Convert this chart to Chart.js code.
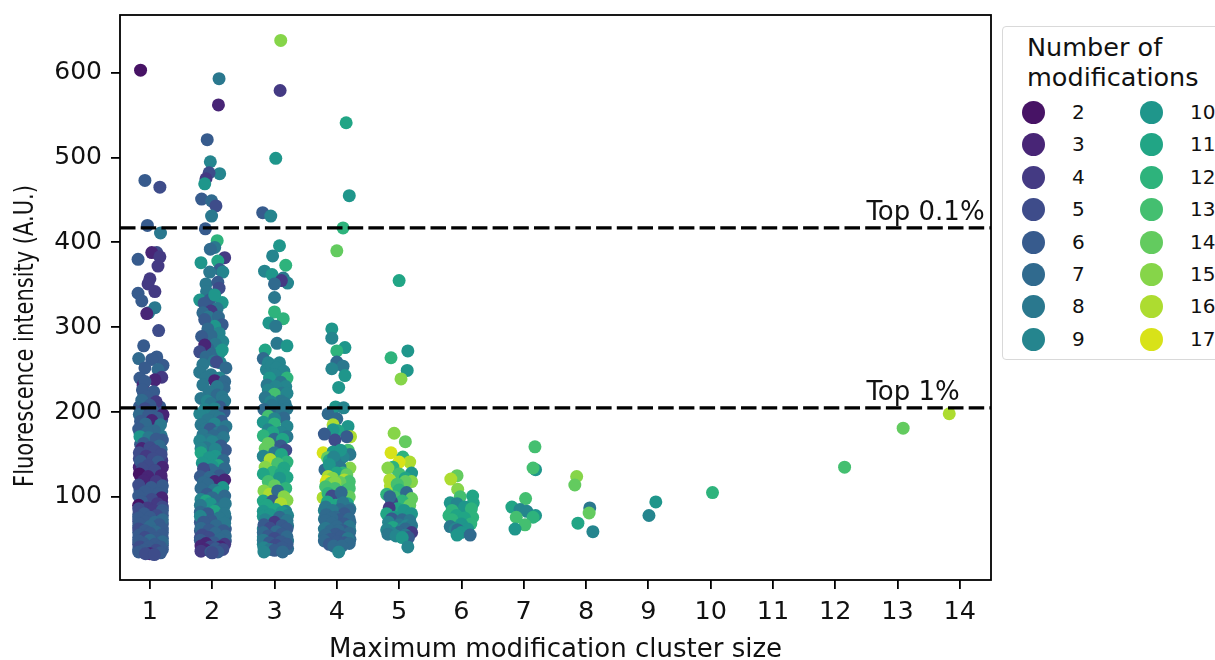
<!doctype html>
<html lang="en">
<head>
<meta charset="utf-8">
<title>Fluorescence intensity by modification cluster size</title>
<style>
    * { margin: 0; padding: 0; font-family: "DejaVu Sans", sans-serif; }
    html, body { width: 1215px; height: 660px; overflow: hidden; background: #fff; }
    #chartBox { position: absolute; left: 0; top: 0; width: 1215px; height: 660px; }
    #legendBox {
        position: absolute; left: 1002px; top: 26px; width: 240px; height: 332px;
        border: 1.5px solid #d9d9d9; border-radius: 4px; background: #fff; color: #111;
    }
    #legendTitle { position: absolute; left: 24px; top: 5px; font-size: 25.5px; line-height: 30px; white-space: nowrap; }
    .legendItem { position: absolute; font-size: 20px; line-height: 22px; }
    .legendItem i { position: absolute; left: -50px; top: 0; width: 23px; height: 23px; border-radius: 50%; }
</style>
</head>
<body>
<div id="chartBox"><canvas id="myChart" width="1215" height="660"></canvas></div>
<div id="legendBox"><div id="legendTitle">Number of<br>modifications</div></div>
<script src="https://cdn.jsdelivr.net/npm/chart.js"></script>
<script>
    // setup
    const modLabels = [2, 3, 4, 5, 6, 7, 8, 9, 10, 11, 12, 13, 14, 15, 16, 17];
    const modColors = ['#471365', '#482576', '#443a83', '#3e4c8a', '#375b8d', '#306a8e', '#2a788e', '#25858e',
        '#1f968b', '#21a585', '#2eb37c', '#44bf70', '#63cb5f', '#86d549', '#addc30', '#d8e219'];
    const xTickValues = [1, 2, 3, 4, 5, 6, 7, 8, 9, 10, 11, 12, 13, 14];
    const yTickValues = [100, 200, 300, 400, 500, 600];
    const topThresholds = [417, 205];
    const topLabels = ['Top 0.1%', 'Top 1%'];

    // each point: cluster size with jitter, intensity, number of modifications
    const cluster1 = [
        [0.85,603,2],[0.92,473,6],[1.16,465,5],[0.96,420,6],[1.17,411,8],[1.11,388,5],[1.03,388,3],[1.16,383,4],
        [0.81,380,6],[1.13,372,4],[1.0,357,4],[0.97,351,4],[1.08,342,4],[0.81,340,6],[0.87,331,6],[1.08,323,8],
        [0.98,317,8],[0.95,316,3],[1.14,296,5],[0.9,278,6],[0.82,263,7],[1.11,265,6],[1.03,262,6],[1.21,255,6],
        [0.92,252,6],[1.13,250,7],[1.19,241,4],[0.84,240,6],[1.08,238,3],[0.89,232,3],[0.92,236,6],
        [0.9,222,6],[1.02,214,5],[0.83,206,6],[1.16,206,6],[0.9,200,6],[1.08,199,5],[1.19,191,6],[0.88,193,6],
        [1.0,183,6],[0.84,176,7],[1.12,176,6],[1.18,172,8],[0.92,172,8],[1.04,164,5],[0.85,162,6],[0.83,145,5],
        [1.18,156,7],[1.12,148,5],[1.0,150,5],[0.9,140,5],[1.19,143,4],[1.03,137,4],[0.83,135,3],[1.14,128,5],
        [1.0,127,5],[0.86,122,4],[1.19,119,4],[1.05,116,6],[0.97,115,5],[0.84,108,6],[1.19,107,6],[1.08,103,6],
        [0.96,100,6],[1.15,97,6],[0.89,96,6],[1.19,94,4],[1.01,90,6],
        [0.88,226,6],[1.06,224,6],[0.95,218,6],[0.87,214,7],[1.1,212,4],[1.0,208,6],[0.92,204,5],[1.05,201,6],
        [0.83,197,7],[1.21,197,3],[0.98,196,6],[1.12,193,6],[0.85,189,6],[1.03,190,3],[0.93,186,7],[1.17,185,8],
        [0.82,180,6],[1.07,178,7],[0.96,176,7],[0.84,171,10],[0.98,170,8],[1.2,167,6],[1.1,168,6],[0.9,163,6],
        [1.15,160,7],[0.87,157,3],[1.0,158,5],[1.08,154,5],[0.83,152,5],[1.18,150,5],[0.94,148,4],[1.05,145,5],
        [0.85,142,6],[1.13,141,6],[0.97,137,5],[1.2,135,3],[0.88,133,5],[1.08,131,5],[0.83,127,2],[1.18,125,3],
        [0.97,124,3],[0.9,119,3],[1.1,118,4],[0.82,114,5],[1.2,113,6],[1.02,111,6],[0.92,106,6],[1.14,104,6],
        [0.82,101,6],[1.19,99,3],[1.03,97,5],[0.87,94,6],[0.82,90,2],[1.12,92,4],[1.2,88,5],[0.96,87,4],[1.06,84,4],
        [0.82,86,5],[1.2,84,6],[0.82,79,6],[1.2,78,6],[0.82,71,5],[1.2,68,6],[0.82,66,6],[1.2,58,6],[0.82,58,6],
        [1.2,51,6],[0.82,52,6],[1.2,43,6],[0.82,44,5],[1.2,38,6],[0.82,38,6],
        [0.83,83,5],[1.19,81,6],[0.91,80,6],[1.11,78,5],[1.0,76,6],[0.82,75,6],[1.2,73,7],[0.93,71,6],[1.08,70,7],
        [0.84,68,6],[1.15,67,6],[1.0,65,7],[0.82,62,5],[1.2,62,6],[0.92,60,6],[1.09,59,7],[1.0,57,6],[0.83,55,6],
        [1.19,55,6],[0.92,52,5],[1.1,51,6],[1.0,49,7],[0.82,48,6],[1.2,47,7],[0.9,45,6],[1.08,44,6],[0.84,41,5],
        [1.17,41,6],[0.98,41,6],[0.9,37,6],[1.1,37,5],[0.82,35,6],[1.17,34,6],[1.0,33,3],[0.93,33,5],[1.07,32,5]
    ];
    const cluster2 = [
        [2.11,593,8],[2.1,562,3],[1.92,521,6],[1.97,495,9],[2.12,481,9],[1.95,482,5],[1.9,475,4],[1.88,469,10],
        [1.83,451,6],[1.99,449,7],[2.06,443,5],[1.99,431,8],[1.89,416,6],[2.08,402,12],[2.2,382,4],[2.04,394,8],
        [1.97,392,7],[2.09,378,11],[1.82,376,10],[2.12,368,6],[2.17,365,9],[1.96,365,8],[1.9,351,8],[2.09,353,6],
        [2.11,346,5],[1.91,342,8],[1.8,332,10],[2.16,329,10],[1.96,332,6],[2.04,338,10],[1.87,328,6],[2.08,322,8],
        [1.98,319,4],[1.85,317,7],[1.94,312,8],[2.1,312,7],[2.16,303,6],[2.04,301,10],[1.88,309,6],[1.93,298,7],
        [2.11,293,9],[1.98,290,7],[1.83,289,6],[2.17,283,9],[2.05,280,8],[1.93,275,7],[1.88,279,3],[2.12,270,10],
        [2.0,268,7],[1.8,271,5],[2.16,273,10],[1.9,265,7],[2.03,260,8],[2.13,258,9],[1.85,256,8],
        [2.07,259,5],[2.22,252,7],[1.8,247,8],[1.98,244,8],[2.12,240,9],[1.9,240,8],[2.04,237,3],[2.2,236,7],
        [1.85,232,8],[2.19,228,7],[2.08,230,8],[1.95,224,8],[2.08,220,7],[2.16,218,8],[1.82,216,8],[2.2,213,8],
        [1.92,213,9],[1.98,210,8],[2.12,206,6],[1.88,203,9],[2.04,204,9],[2.19,200,6],[1.8,198,9],[2.04,196,8],
        [2.12,193,8],[1.93,191,8],[2.15,189,6],[2.04,186,9],[1.82,185,8],[2.22,183,8],[1.9,180,8],[1.97,180,6],
        [2.1,176,8],[2.17,177,7],[1.85,173,8],[2.02,172,7],[2.18,170,8],[1.94,167,8],[1.8,166,9],[2.08,165,8],
        [2.0,165,9],[2.14,160,6],[1.9,158,8],[1.82,157,9],[2.21,155,6],[2.05,156,9],[1.82,152,11],[2.05,148,10],
        [1.95,146,10],[2.18,143,7],[1.84,140,10],[2.1,137,11],[2.2,133,7],[2.0,136,10],[1.98,132,7],[1.88,128,3],
        [1.86,133,5],[2.06,128,7],[2.12,125,6],[1.81,124,6],[2.2,120,3],[1.96,123,7],[2.04,118,3],[1.86,117,7],
        [1.93,115,7],[2.17,111,10],[1.82,110,7],[2.03,108,8],[1.92,103,6],[2.1,105,10],[2.2,101,7],[1.82,97,9],
        [2.0,99,7],[2.08,95,7],[1.9,95,11],[1.97,92,10],[2.18,88,9],[1.84,87,10],[2.11,86,8],[2.04,83,11],
        [1.81,90,8],[2.21,92,8],[1.81,82,7],[2.21,75,7],[1.81,70,6],[2.21,62,6],[1.81,60,6],[2.21,48,6],[1.81,52,5],
        [1.93,80,6],[2.2,80,8],[1.81,77,9],[2.11,75,8],[1.98,72,6],[1.86,70,6],[2.2,69,8],[2.06,66,7],
        [1.82,63,7],[1.95,61,6],[2.18,60,6],[2.05,57,7],[1.84,55,5],[2.21,54,7],[1.95,52,5],[2.12,50,7],
        [1.81,49,6],[2.02,46,6],[1.9,45,3],[2.2,44,4],[1.82,42,3],[2.13,41,3],[1.97,41,5],[2.06,39,6],
        [1.88,38,3],[2.17,38,5],[1.82,36,4],[1.98,35,6],[2.09,35,6],[2.0,34,5]
    ];
    const cluster3 = [
        [3.1,638,15],[3.09,579,4],[3.02,499,10],[2.81,435,6],[2.94,431,9],[3.08,396,10],[2.97,384,9],[3.18,373,12],
        [2.84,366,9],[2.96,362,10],[3.14,358,8],[3.21,352,9],[3.11,355,4],[3.0,351,7],[3.0,335,8],[3.0,318,12],
        [3.14,310,12],[2.91,305,10],[3.02,301,8],[3.04,281,8],[3.2,278,10],[2.85,273,11],[2.82,263,7],[2.87,250,9],
        [2.9,258,9],[2.95,255,9],[3.08,258,9],[3.03,252,9],[3.15,248,9],[3.0,244,9],[3.2,240,12],[2.92,240,10],
        [3.1,235,8],[2.88,232,8],[3.18,230,9],[3.02,230,9],[2.9,226,9],[3.12,222,8],[3.0,221,13],[3.2,222,9],
        [2.85,217,8],[3.1,213,8],[2.94,212,9],[3.17,210,8],[2.96,208,8],[2.83,203,7],[3.2,204,8],[3.05,198,7],
        [3.12,202,8],[2.9,195,13],[3.15,193,7],[3.0,192,9],[2.82,188,10],[3.0,186,12],[3.2,183,9],[2.9,179,9],
        [3.1,176,9],[2.97,176,11],[2.82,172,12],[3.2,171,8],[3.0,168,7],[3.13,168,11],[2.9,163,14],[3.1,160,6],
        [2.85,157,14],[3.18,155,5],[3.0,152,8],[3.11,150,11],[2.82,148,9],[2.93,144,16],[3.2,141,12],[3.05,139,13],
        [2.85,135,15],[3.15,134,11],[2.97,129,12],[3.1,127,11],[2.82,127,11],[3.2,123,11],[3.08,122,10],[2.9,118,13],
        [3.0,113,14],[3.18,110,12],[2.83,107,15],[2.92,103,16],[3.05,107,7],[3.15,100,15],[3.2,96,15],[2.82,95,11],
        [2.97,95,6],[3.1,92,16],[2.88,90,11],[3.02,85,11],[3.18,83,9],[2.82,83,10],[3.12,82,10],
        [2.82,77,10],[3.21,78,9],[2.82,62,9],[3.21,66,8],[2.82,53,9],[3.21,48,8],[2.82,44,9],[3.21,39,7],
        [2.93,79,10],[3.08,76,7],[2.85,73,9],[3.2,72,8],[3.0,70,4],[2.83,67,6],[3.12,66,6],[2.93,63,5],
        [3.2,62,6],[3.03,59,7],[2.82,58,7],[3.12,56,6],[2.9,54,6],[3.2,53,7],[3.0,51,5],[2.82,49,8],
        [3.1,47,6],[2.92,46,6],[3.2,44,6],[3.02,43,5],[2.83,40,9],[3.12,40,6],[2.93,38,8],[3.0,37,6],
        [2.83,35,9],[3.13,35,7]
    ];
    const cluster4 = [
        [4.15,541,11],[4.2,455,10],[4.1,417,12],[4.0,390,14],[3.92,298,10],[3.92,287,9],[4.13,276,10],[4.0,272,12],
        [4.0,259,7],[4.1,254,8],[3.92,251,9],[4.13,243,10],[4.03,229,10],[3.98,206,10],[4.11,205,9],[3.86,198,7],
        [4.0,192,7],[3.94,185,16],[4.18,183,10],[4.02,178,11],[3.94,179,10],[3.8,174,6],[4.22,171,16],[4.16,171,6],
        [3.97,167,5],[3.78,152,17],[4.18,155,13],[3.94,153,10],[4.21,150,8],[4.1,147,9],[3.85,146,14],[3.88,143,11],
        [4.21,134,15],[3.98,140,8],[4.06,155,10],[3.95,147,9],[3.81,132,7],[4.05,135,8],[4.1,128,12],[3.88,138,10],
        [4.0,128,11],[4.16,126,14],[3.86,124,16],[3.93,122,15],[3.83,118,17],[4.12,120,16],[3.9,116,14],[4.2,118,13],
        [4.05,117,14],[3.97,117,15],[3.82,112,13],[4.16,108,12],[3.97,110,13],[4.2,110,13],[3.78,99,16],[3.86,104,12],
        [4.2,100,14],[4.03,99,12],[3.92,101,5],[4.07,105,7],[3.85,94,11],[4.17,92,11],[3.98,90,11],[4.1,93,8],
        [3.8,84,9],[4.21,86,8],[3.8,74,8],[4.21,70,7],[3.8,62,8],[4.21,60,8],[3.8,54,8],[4.21,50,7],
        [3.82,88,8],[4.05,85,7],[3.93,84,8],[4.2,84,7],[3.83,79,7],[4.12,80,6],[3.98,76,7],[4.05,73,6],
        [4.2,74,7],[3.92,75,7],[3.82,72,7],[3.92,69,7],[4.12,68,6],[4.0,65,7],[4.2,65,8],[3.82,63,8],[3.9,60,7],
        [4.1,60,6],[4.03,60,7],[4.2,57,7],[3.98,56,6],[3.82,55,7],[4.07,53,6],[3.9,50,6],[4.18,51,8],[3.8,48,7],
        [4.0,47,6],[4.12,46,6],[4.2,45,7],[3.88,44,6],[3.95,42,7],[4.08,42,7],[4.03,35,9]
    ];
    const cluster5 = [
        [5.0,355,11],[4.87,264,12],[5.14,272,10],[5.13,249,10],[5.03,239,15],[4.92,175,15],[5.1,165,14],[4.87,152,17],
        [5.06,147,12],[5.17,141,16],[5.0,141,17],[4.9,135,12],[4.82,134,15],[5.2,128,10],[5.0,127,13],[5.1,122,11],
        [4.85,120,16],[5.2,118,15],[5.1,118,14],[4.86,113,16],[4.97,115,13],[5.0,108,12],[4.8,103,12],[5.12,105,7],
        [4.92,100,13],[5.2,98,14],[5.05,95,12],[4.88,94,5],[4.85,100,7],[5.17,90,14],[4.97,86,11],[4.84,87,4],
        [5.08,84,10],[4.8,80,11],[5.2,80,10],[4.92,76,10],[4.88,74,6],[5.05,73,7],[5.17,72,8],[4.83,70,9],
        [5.0,67,8],[5.12,66,9],[5.2,66,8],[4.9,64,11],[5.05,62,9],[5.1,62,7],[4.8,61,9],[5.2,58,4],[5.0,58,7],
        [4.88,57,9],[5.1,55,8],[4.82,56,8],[4.95,54,9],[5.15,52,6],[5.05,52,10],[5.14,41,9]
    ];
    const cluster6 = [
        [5.93,125,14],[5.83,121,16],[5.94,109,15],[5.98,100,13],[6.18,101,11],[6.19,93,11],[5.82,93,10],[5.93,92,9],
        [6.05,88,10],[6.16,86,12],[5.85,84,12],[5.8,78,12],[5.92,78,11],[6.18,76,12],[6.05,75,11],[5.85,73,12],
        [6.15,68,12],[6.0,68,10],[5.82,65,8],[5.9,62,9],[6.1,62,10],[5.94,61,7],[6.0,58,10],[6.14,55,7],[5.93,55,10]
    ];
    const cluster7 = [
        [7.18,159,13],[7.19,132,10],[7.15,134,13],[7.03,98,13],[6.81,88,11],[6.94,85,9],[7.05,83,9],[7.19,78,10],
        [7.15,76,12],[6.88,76,13],[7.02,67,13],[6.86,62,10]
    ];
    const cluster8 = [[7.85,124,15],[7.82,114,14],[8.06,87,8],[8.05,81,14],[7.87,69,11],[8.11,59,9]];
    const clusterHigh = [[9.12,94,10],[9.01,78,9],[10.03,105,12],[12.15,135,13],[13.09,181,14],[13.83,198,16]];

    const allPoints = [...cluster1, ...cluster2, ...cluster3, ...cluster4, ...cluster5, ...cluster6, ...cluster7, ...cluster8, ...clusterHigh];

    // frame, threshold captions, y title (reference text is wider than tall)
    const frameAndCaptions = {
        id: 'frameAndCaptions',
        afterDatasetsDraw(chart) {
            const {ctx, chartArea: {top, bottom, left, right}, scales: {x, y}} = chart;
            ctx.save();
            ctx.strokeStyle = '#000';
            ctx.lineWidth = 1.8;
            ctx.strokeRect(left, top, right - left, bottom - top);
            ctx.fillStyle = '#111';
            ctx.font = '26px "DejaVu Sans"';
            ctx.textBaseline = 'alphabetic';
            topLabels.forEach((label, i) => {
                ctx.fillText(label, x.getPixelForValue(12.5), y.getPixelForValue(topThresholds[i]) - 8);
            });
            ctx.translate(33, 336);
            ctx.rotate(-Math.PI / 2);
            ctx.scale(1, 1.24);
            ctx.font = '21px "DejaVu Sans"';
            ctx.textAlign = 'center';
            ctx.fillText('Fluorescence intensity (A.U.)', 0, 0);
            ctx.restore();
        }
    };

    // the fixed frame needs no room for half tick labels
    const noLabelPadding = scale => {
        scale.paddingTop = 0;
        scale.paddingBottom = 0;
        scale.paddingLeft = 0;
        scale.paddingRight = 0;
    };

    // config
    const config = {
        type: 'scatter',
        data: {
            datasets: [{
                data: allPoints.map(p => ({x: p[0], y: p[1]})),
                pointBackgroundColor: allPoints.map(p => modColors[modLabels.indexOf(p[2])]),
                pointBorderWidth: 0,
                pointRadius: 6.5,
                order: 2
            }].concat(topThresholds.map(v => ({
                type: 'line',
                data: [{x: 0.52, y: v}, {x: 14.5, y: v}],
                borderColor: '#000',
                borderWidth: 3.2,
                borderDash: [15.5, 5.2],
                pointRadius: 0,
                order: 1
            })))
        },
        options: {
            responsive: false,
            animation: false,
            layout: {padding: {top: 15, right: 224, left: 0, bottom: 0}},
            plugins: {legend: {display: false}, tooltip: {enabled: false}},
            scales: {
                x: {
                    type: 'linear',
                    min: 0.52,
                    max: 14.5,
                    afterFit(scale) { scale.height = 80; noLabelPadding(scale); },
                    afterBuildTicks(scale) { scale.ticks = xTickValues.map(v => ({value: v})); },
                    title: {display: true, text: 'Maximum modification cluster size', color: '#111', font: {size: 26}, padding: {top: 0, bottom: -6}},
                    border: {display: false},
                    grid: {drawOnChartArea: false, color: '#000', lineWidth: 1.8, tickLength: 9},
                    ticks: {color: '#111', font: {size: 25.5}, maxRotation: 0, autoSkip: false, padding: 8}
                },
                y: {
                    min: 2,
                    max: 668,
                    afterFit(scale) { scale.width = 120; noLabelPadding(scale); },
                    afterBuildTicks(scale) { scale.ticks = yTickValues.map(v => ({value: v})); },
                    border: {display: false},
                    grid: {drawOnChartArea: false, color: '#000', lineWidth: 1.8, tickLength: 9},
                    ticks: {color: '#111', font: {size: 25}, padding: 9}
                }
            }
        },
        plugins: [frameAndCaptions]
    };

    // render init block
    Chart.defaults.font.family = '"DejaVu Sans"';
    const myChart = new Chart(document.getElementById('myChart'), config);

    // legend in two columns
    const legendBox = document.getElementById('legendBox');
    modLabels.forEach((label, i) => {
        const item = document.createElement('div');
        item.className = 'legendItem';
        item.style.left = (i < 8 ? 69 : 187) + 'px';
        item.style.top = (74 + (i % 8) * 32.4) + 'px';
        item.innerHTML = '<i style="background:' + modColors[i] + '"></i>' + label;
        legendBox.appendChild(item);
    });
</script>
</body>
</html>
